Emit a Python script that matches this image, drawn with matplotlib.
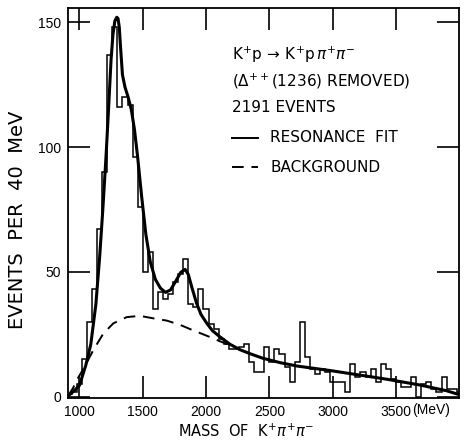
import matplotlib
matplotlib.use("Agg")
import matplotlib.pyplot as plt
import numpy as np

plt.rcParams['font.family'] = ['DejaVu Sans']
plt.rcParams['mathtext.fontset'] = 'dejavusans'

# ---- data ----
bin_start = 900
bin_width = 40
counts = [1, 2, 5, 15, 30, 43, 67, 90, 137, 148,
          116, 120, 117, 96, 76, 50, 58, 35, 42, 39,
          41, 46, 49, 55, 37, 36, 43, 35, 29, 27,
          23, 21, 19, 19, 20, 21, 14, 10, 10, 20,
          14, 19, 17, 12, 6, 14, 30, 16, 11, 9,
          11, 10, 6, 6, 6, 2, 13, 8, 10, 8,
          11, 6, 13, 11, 7, 6, 4, 4, 8, 0,
          5, 6, 3, 2, 8, 3, 3, 2]

fit_mass = [910, 950, 1000, 1050, 1090, 1130, 1160, 1185, 1210, 1230,
            1250, 1265, 1280, 1295, 1305, 1315, 1325, 1340, 1360, 1385,
            1410, 1435, 1460, 1490, 1525, 1560, 1600, 1640, 1680, 1720,
            1760, 1800, 1835, 1860, 1890, 1925, 1960, 2005, 2050, 2110,
            2190, 2270, 2350, 2450, 2590, 2720, 2850, 2980, 3160, 3430,
            3690, 3900, 3990]
fit_values = [0.3, 2, 4.5, 12.5, 21, 37, 56, 75, 96, 115,
              135, 145, 150.5, 152, 151.5, 148, 140, 129, 124, 120,
              115, 107, 96, 81, 65, 54, 47, 43.5, 41.8, 42.8,
              46.2, 49.8, 51, 49, 43.5, 37.5, 33, 29.5, 26.5, 24,
              21, 18.8, 17.2, 15.4, 13.6, 12.3, 11.4, 10.5, 9.1, 7,
              4.7, 2.4, 1]

bg_mass = [912, 950, 980, 1044, 1110, 1189, 1268, 1374, 1479, 1584,
           1690, 1795, 1874, 1953, 2032, 2111, 2190, 2270]
bg_values = [0.5, 3.5, 6.7, 12.3, 18.7, 25.3, 29.4, 31.9, 32.4, 31.4,
             30.5, 28.8, 27.1, 25.5, 23.9, 22.2, 20.6, 18.8]

x_ticks = [1000, 1500, 2000, 2500, 3000, 3500]
y_ticks = [0, 50, 100, 150]

# ---- figure ----
W, H = 472, 447
fig = plt.figure(figsize=(W / 100, H / 100), dpi=100)
ax = fig.add_axes([68 / W, (H - 398) / H, 391 / W, 390 / H])

edges = bin_start + bin_width * np.arange(len(counts) + 1)
ax.stairs(counts, edges, color='black', linewidth=1.1)
ax.plot(fit_mass, fit_values, color='black', linewidth=2.2, solid_joinstyle='round')
ax.plot(bg_mass, bg_values, color='black', linewidth=1.4, dashes=(6, 4))

ax.set_xlim(910, 3998)
ax.set_ylim(-0.5, 155.7)
ax.set_xticks(x_ticks)
ax.set_xticklabels([str(t) for t in x_ticks])
ax.set_yticks(y_ticks)
ax.tick_params(direction='in', length=16, width=1.2, top=True, right=True,
               labelsize=10, pad=5)
for lab in ax.get_xticklabels() + ax.get_yticklabels():
    lab.set_family('Liberation Sans')
for s in ax.spines.values():
    s.set_linewidth(1.3)

fig.text(431 / W, 1 - 410 / H, '(MeV)', ha='center', va='center',
         fontsize=10, family='Liberation Sans')
fig.text(17.5 / W, 1 - 220 / H, 'EVENTS  PER  40  MeV', rotation=90,
         ha='center', va='center', fontsize=14)
fig.text(246.5 / W, 1 - 431 / H, r'MASS  OF  K$^{+}\pi^{+}\pi^{-}$',
         ha='center', va='center', fontsize=10.5)

tx = (232 - 68) / 391
def ay(ypix):
    return (398 - ypix) / 390

ax.text(tx, ay(55), r'K$^{+}$p$\,\rightarrow\,$K$^{+}$p$\,\pi^{+}\pi^{-}$',
        transform=ax.transAxes, ha='left', va='center', fontsize=11)
ax.text(tx, ay(81), r'($\Delta^{++}$(1236) REMOVED)',
        transform=ax.transAxes, ha='left', va='center', fontsize=11)
ax.text(tx, ay(108), '2191 EVENTS',
        transform=ax.transAxes, ha='left', va='center', fontsize=11)
ax.text((270 - 68) / 391, ay(138), 'RESONANCE  FIT',
        transform=ax.transAxes, ha='left', va='center', fontsize=11)
ax.text((270 - 68) / 391, ay(167), 'BACKGROUND',
        transform=ax.transAxes, ha='left', va='center', fontsize=11)
ax.plot([tx, (258 - 68) / 391], [ay(138), ay(138)], color='black',
        linewidth=1.4, transform=ax.transAxes)
ax.plot([tx, (258 - 68) / 391], [ay(167), ay(167)], color='black',
        linewidth=1.4, dashes=(6, 4), transform=ax.transAxes)

fig.savefig('out.png', dpi=100)
